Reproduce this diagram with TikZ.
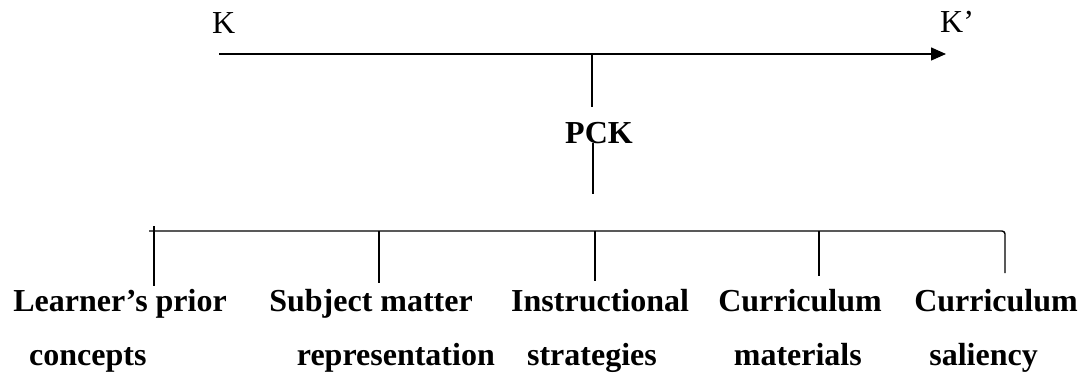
\documentclass[tikz,border=0pt]{standalone}
\usepackage{fontspec}
\setmainfont{Liberation Serif}
\usetikzlibrary{arrows.meta}
\begin{document}
\begin{tikzpicture}[x=1pt,y=-1pt,
  lbl/.style={anchor=base east, inner sep=0pt, font=\fontsize{32}{38}\selectfont\bfseries},
  lblw/.style={lbl, anchor=base west},
  toplbl/.style={anchor=base west, inner sep=0pt, font=\fontsize{32}{38}\selectfont},
  conn/.style={line width=1.4pt}]
\useasboundingbox[fill=white] (0,0) rectangle (1083,374);

% top labels
\node[toplbl] (K) at (212,34) {K};
\node[toplbl] (Kp) at (940,33) {K’};
\node[lblw] (PCK) at (565,144) {PCK};

% coordinates
\coordinate (a0) at (219,54);
\coordinate (a1) at (946,54);
\coordinate (aj) at (592,54);
\coordinate (aj2) at (592,107);
\coordinate (p0) at (593,143);
\coordinate (p1) at (593,194);
\coordinate (h0) at (149,231);
\coordinate (h1) at (1005,231);
\coordinate (t0) at (154,226);
\coordinate (t2) at (379,231);
\coordinate (t3) at (595,231);
\coordinate (t4) at (819,231);
\coordinate (b1) at (154,286);
\coordinate (b2) at (379,283);
\coordinate (b3) at (595,281);
\coordinate (b4) at (819,276);
\coordinate (b5) at (1005,273);

% arrow
\draw[conn, -{Triangle[length=15pt,width=13pt]}] (a0) -- (a1);
\draw[conn] (aj) -- (aj2);
\draw[conn] (p0) -- (p1);

% bracket
\draw[conn, rounded corners=3pt] (h0) -- (h1) -- (b5);
\draw[conn] (t0) -- (b1);
\draw[conn] (t2) -- (b2);
\draw[conn] (t3) -- (b3);
\draw[conn] (t4) -- (b4);

% bottom labels
\node[lbl] (L1a) at (227,311) {Learner’s prior};
\node[lblw] (L1b) at (29,365) {concepts};
\node[lbl] (L2a) at (473,311) {Subject matter};
\node[lbl] (L2b) at (495,365) {representation};
\node[lblw] (L3a) at (511,311) {Instructional};
\node[lbl] (L3b) at (657,365) {strategies};
\node[lbl] (L4a) at (882,311) {Curriculum};
\node[lbl] (L4b) at (862,365) {materials};
\node[lbl] (L5a) at (1078,311) {Curriculum};
\node[lbl] (L5b) at (1038,365) {saliency};
\end{tikzpicture}
\end{document}
